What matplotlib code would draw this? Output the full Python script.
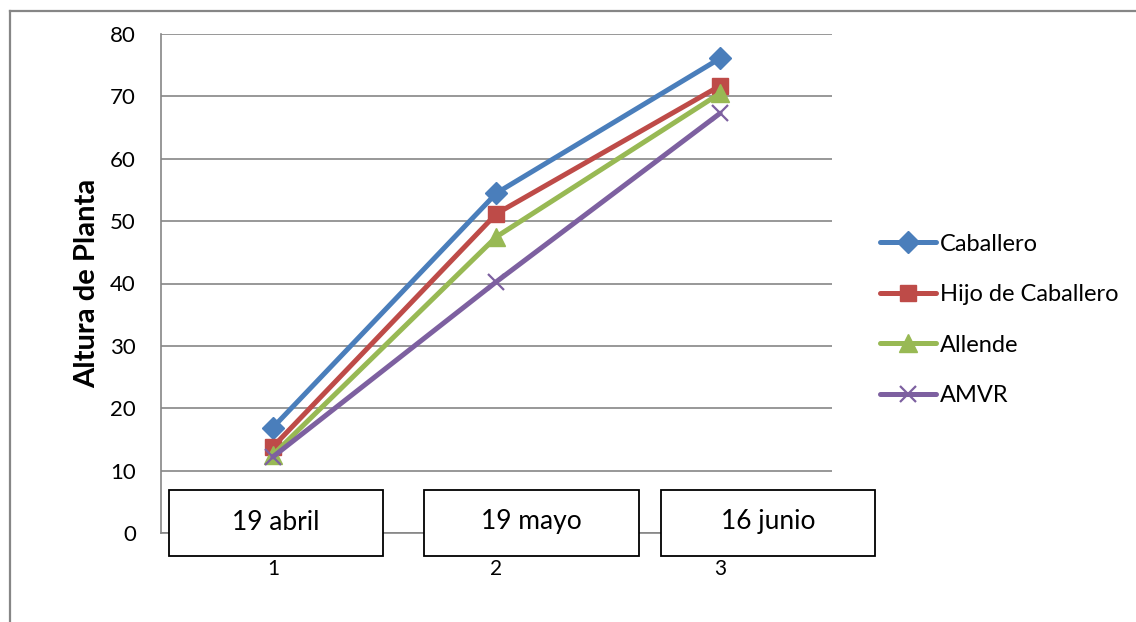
import matplotlib
matplotlib.use("Agg")
import matplotlib.pyplot as plt
from matplotlib.patches import Rectangle
from matplotlib.lines import Line2D

plt.rcParams['font.family'] = ['Lato', 'DejaVu Sans']

# Plant height measured on three dates
categories = [1, 2, 3]
date_labels = ["19 abril", "19 mayo", "16 junio"]
caballero = [16.9, 54.5, 76.1]
hijo_de_caballero = [13.8, 51.2, 71.7]
allende = [12.5, 47.5, 70.5]
amvr = [12.2, 40.3, 67.3]

series = [
    ("Caballero", caballero, "#4A7EBB", "D", 11),
    ("Hijo de Caballero", hijo_de_caballero, "#BE4B48", "s", 12),
    ("Allende", allende, "#98B954", "^", 13),
    ("AMVR", amvr, "#7D60A0", "x", 11),
]

W, H = 1136, 622
fig = plt.figure(figsize=(W / 100, H / 100), dpi=100)
fig.patch.set_facecolor("white")

def fx(px):
    return px / W

def fy(py):
    return 1 - py / H

ax = fig.add_axes([fx(161), fy(533), fx(832) - fx(161), fy(34) - fy(533)])
grid_c = "#868686"

for name, vals, col, mk, ms in series:
    kw = dict(markersize=ms, markerfacecolor=col, markeredgecolor=col)
    if mk == "x":
        kw["markeredgewidth"] = 1.6
    ax.plot(categories, vals, color=col, lw=3.6, marker=mk, label=name,
            solid_capstyle="round", zorder=3, **kw)

ax.set_xlim(0.5, 3.5)
ax.set_ylim(0, 80)
ax.set_yticks(range(0, 81, 10))
ax.set_xticks(categories)
ax.set_xticklabels([str(c) for c in categories])
ax.yaxis.grid(True, color=grid_c, lw=1.2)
ax.set_axisbelow(True)
for s in ("top", "right"):
    ax.spines[s].set_visible(False)
for s in ("left", "bottom"):
    ax.spines[s].set_color(grid_c)
    ax.spines[s].set_linewidth(1.2)
ax.tick_params(axis="y", length=0, pad=18, labelsize=16)
ax.tick_params(axis="x", length=0, pad=19, labelsize=15)
ax.set_ylabel("Altura de Planta", fontsize=21, fontweight="bold", labelpad=7)

# Date boxes below the plot
boxes = [(169, 383), (424, 639), (661, 875)]
for (x0, x1), txt in zip(boxes, date_labels):
    r = Rectangle((fx(x0), fy(556)), fx(x1) - fx(x0), fy(490) - fy(556),
                  transform=fig.transFigure, facecolor="white",
                  edgecolor="black", lw=1.3, zorder=5)
    fig.add_artist(r)
    fig.text(fx((x0 + x1) / 2), fy(522), txt, ha="center", va="center",
             fontsize=19, zorder=6)

# Chart frame
fig.add_artist(Line2D([fx(10), fx(10)], [fy(11), 0], transform=fig.transFigure,
                      color=grid_c, lw=1.6))
fig.add_artist(Line2D([fx(10), 1], [fy(11), fy(11)], transform=fig.transFigure,
                      color=grid_c, lw=1.6))

handles, labels = ax.get_legend_handles_labels()
fig.legend(handles, labels, loc="center left",
           bbox_to_anchor=(fx(868), fy(320)), frameon=False, fontsize=17,
           handlelength=2.4, handletextpad=0.15, labelspacing=1.25,
           borderpad=0)

fig.savefig("out.png", dpi=100, facecolor="white")
